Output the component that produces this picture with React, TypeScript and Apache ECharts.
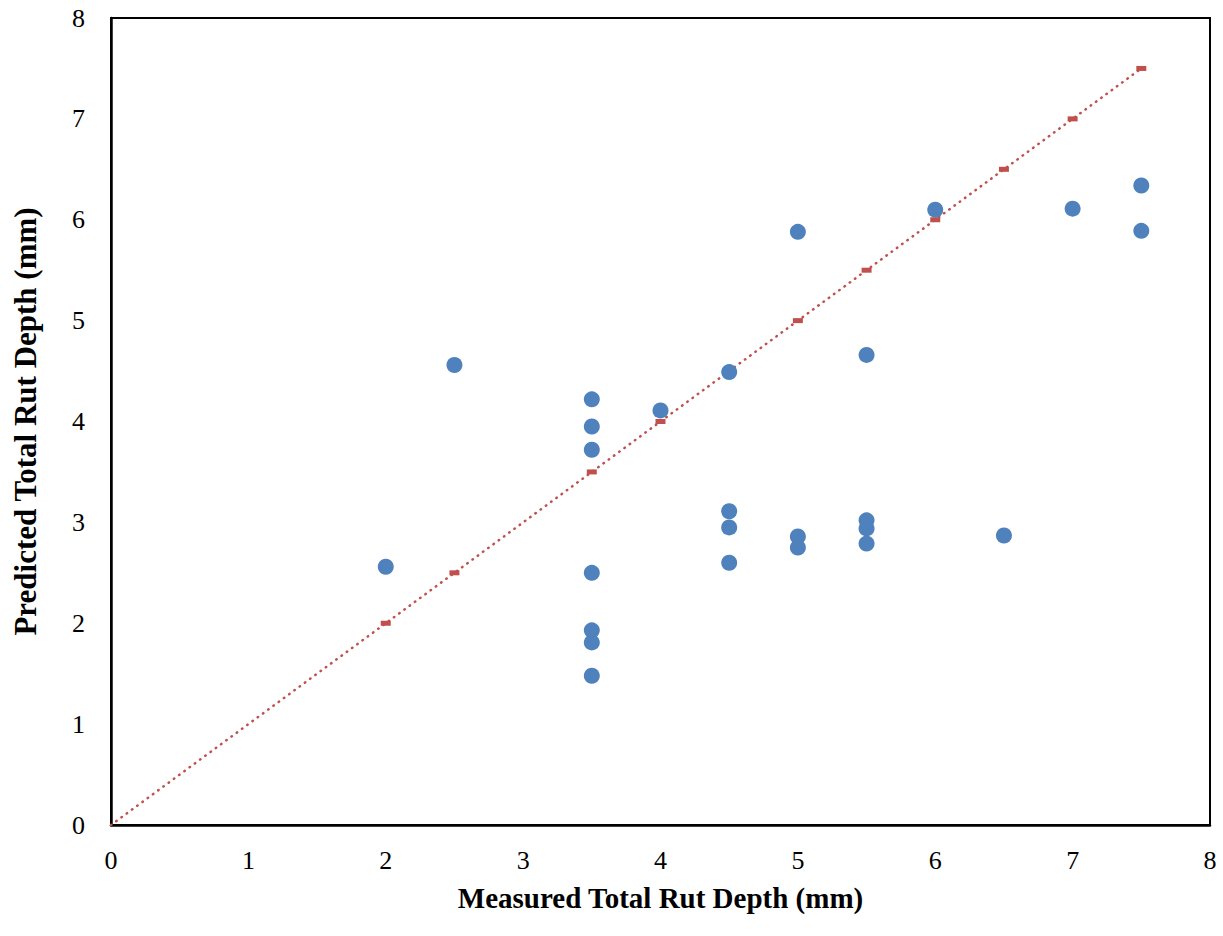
import React, { useEffect, useRef } from "react";
import * as echarts from "echarts";

const measured = [2, 2.5, 3.5, 3.5, 3.5, 3.5, 3.5, 3.5, 3.5, 4, 4.5, 4.5, 4.5, 4.5, 5, 5, 5, 5.5, 5.5, 5.5, 5.5, 6, 6.5, 7, 7.5, 7.5];
const predicted = [2.56, 4.56, 4.22, 3.95, 3.72, 2.5, 1.93, 1.81, 1.48, 4.11, 4.49, 3.11, 2.95, 2.6, 5.88, 2.86, 2.75, 4.66, 3.02, 2.94, 2.79, 6.1, 2.87, 6.11, 6.34, 5.89];
const lineValues = [0, 2, 2.5, 3.5, 4, 4.5, 5, 5.5, 6, 6.5, 7, 7.5];
const xTitle = "Measured Total Rut Depth (mm)";
const yTitle = "Predicted Total Rut Depth (mm)";

export default function App() {
  const ref = useRef<HTMLDivElement>(null);
  useEffect(() => {
    if (!ref.current) return;
    const chart = echarts.init(ref.current, null, { renderer: "svg" });
    const font = "'Liberation Serif', 'Times New Roman', serif";
    chart.setOption({
      animation: false,
      backgroundColor: "#ffffff",
      grid: {
        left: 111,
        top: 18,
        right: 13,
        bottom: 111,
        show: true,
        borderColor: "#000",
        borderWidth: 2,
        containLabel: false,
      },
      xAxis: {
        type: "value",
        min: 0,
        max: 8,
        interval: 1,
        name: xTitle,
        nameLocation: "middle",
        nameGap: 58,
        nameTextStyle: { fontFamily: font, fontSize: 29, fontWeight: "bold", color: "#000" },
        axisLine: { show: true, lineStyle: { color: "#000", width: 2.5 } },
        axisTick: { show: false },
        splitLine: { show: false },
        axisLabel: { fontFamily: font, fontSize: 26, color: "#000", margin: 22 },
      },
      yAxis: {
        type: "value",
        min: 0,
        max: 8,
        interval: 1,
        name: yTitle,
        nameLocation: "middle",
        nameGap: 70,
        nameTextStyle: { fontFamily: font, fontSize: 31, fontWeight: "bold", color: "#000" },
        axisLine: { show: true, lineStyle: { color: "#000", width: 2.5 } },
        axisTick: { show: false },
        splitLine: { show: false },
        axisLabel: { fontFamily: font, fontSize: 26, color: "#000", margin: 26 },
      },
      series: [
        {
          type: "line",
          data: lineValues.map((v, i) => ({
            value: [v, v],
            symbol: i === 0 ? "none" : "rect",
          })),
          symbolSize: [10, 5],
          itemStyle: { color: "#C0504D" },
          lineStyle: { color: "#C0504D", width: 2.5, type: [0.5, 6], cap: "round" },
          z: 2,
        },
        {
          type: "scatter",
          data: measured.map((m, i) => [m, predicted[i]]),
          symbol: "circle",
          symbolSize: 16,
          itemStyle: { color: "#4F81BD", opacity: 1 },
          z: 3,
        },
      ],
    });
    return () => chart.dispose();
  }, []);
  return <div ref={ref} style={{ position: "fixed", left: 0, top: 0, width: 1223, height: 936 }} />;
}
